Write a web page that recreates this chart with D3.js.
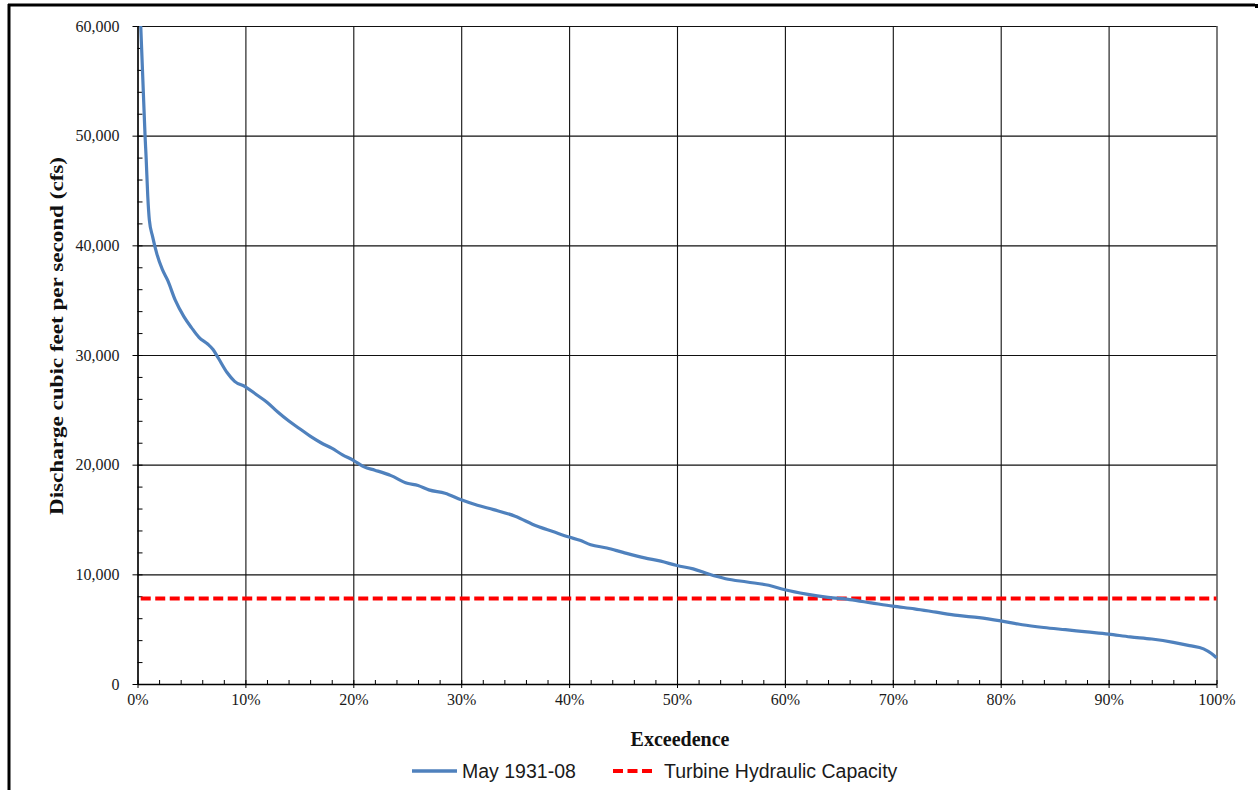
<!DOCTYPE html>
<html>
<head>
<meta charset="utf-8">
<script src="https://cdn.jsdelivr.net/npm/d3@7"></script>
<style>
  body { margin: 0; background: #fff; }
  svg { display: block; }
  .tick text { font-family: "Liberation Serif", "Times New Roman", serif; font-size: 16px; fill: #1a1a1a; }
</style>
</head>
<body>
<div id="chart"></div>
<script>
// exceedance (%) and discharge (cfs)
const exceedance = [0.3, 0.5, 0.7, 0.8, 0.95, 1.1, 1.4, 1.8, 2.3, 2.8, 3.5, 4.3, 5.0, 5.7, 6.5, 7.0, 7.5, 8.3, 9.0, 10.0,
  11, 12, 13, 14, 15, 16, 17, 18, 19, 20, 21, 22, 23.5, 25, 26, 27, 28.5, 30, 31.5, 33, 35, 37, 38.5, 40,
  41, 42, 43.5, 45, 47, 48.5, 50, 51.5, 53, 54.5, 56.5, 58.5, 60, 62, 64, 66, 68, 70, 72, 74, 76, 78, 80,
  82, 84, 86, 88, 90, 92, 94, 96, 97.5, 98.8, 99.5, 100];
const discharge = [60000, 55000, 50000, 48000, 44500, 42300, 40800, 39200, 37800, 36800, 35000, 33500, 32500, 31600, 31000, 30500, 29700, 28400, 27600, 27100,
  26400, 25700, 24800, 24000, 23300, 22600, 22000, 21500, 20900, 20400, 19800, 19500, 19000, 18300, 18100, 17700, 17400, 16800, 16300, 15900, 15300, 14400, 13900, 13400,
  13100, 12700, 12400, 12000, 11500, 11200, 10800, 10500, 10000, 9600, 9300, 9000, 8600, 8200, 7900, 7700, 7400, 7100, 6850, 6550, 6250, 6050, 5750,
  5400, 5150, 4950, 4750, 4550, 4300, 4100, 3800, 3500, 3200, 2800, 2400];
const turbineCapacity = 7800;
const xTicks = [0, 10, 20, 30, 40, 50, 60, 70, 80, 90, 100];
const yTicks = [0, 10000, 20000, 30000, 40000, 50000, 60000];
const seriesNames = ["May 1931-08", "Turbine Hydraulic Capacity"];

const W = 1260, H = 790;
const margin = {left: 137.5, right: W - 1216.5, top: 26, bottom: H - 684};
const width = W - margin.left - margin.right;
const height = H - margin.top - margin.bottom;

const svg = d3.select('#chart').append('svg')
  .attr('width', W)
  .attr('height', H);

// outer frame (left and top edges of the page box)
svg.append('line').attr('x1', 9).attr('x2', 9).attr('y1', 4).attr('y2', H)
  .attr('stroke', '#000').attr('stroke-width', 3);
svg.append('line').attr('x1', 8).attr('x2', 1255).attr('y1', 5).attr('y2', 5)
  .attr('stroke', '#000').attr('stroke-width', 3);
svg.append('rect').attr('x', 1255).attr('y', 4).attr('width', 3).attr('height', 4).attr('fill', '#000');

const g = svg.append('g')
  .attr('transform', 'translate(' + margin.left + ',' + margin.top + ')');

const x = d3.scaleLinear().domain([0, 100]).range([0, width]);
const y = d3.scaleLinear().domain([0, 60000]).range([height, 0]);

// gridlines
g.append('g')
  .attr('class', 'grid')
  .call(d3.axisLeft(y).tickValues(yTicks).tickSize(-width).tickFormat(''))
  .call(s => s.select('.domain').remove())
  .selectAll('line').attr('stroke', '#111').attr('stroke-width', 1.1);
g.append('g')
  .attr('class', 'grid')
  .attr('transform', 'translate(0,' + height + ')')
  .call(d3.axisBottom(x).tickValues(xTicks).tickSize(-height).tickFormat(''))
  .call(s => s.select('.domain').remove())
  .selectAll('line').attr('stroke', '#111').attr('stroke-width', 1.1);

// minor ticks (inside)
g.append('g')
  .call(d3.axisLeft(y).tickValues(d3.range(0, 60001, 2000)).tickSize(-5).tickFormat(''))
  .call(s => s.select('.domain').remove())
  .selectAll('line').attr('stroke', '#000');
g.append('g')
  .attr('transform', 'translate(0,' + height + ')')
  .call(d3.axisBottom(x).tickValues(d3.range(0, 101, 2)).tickSize(-4).tickFormat(''))
  .call(s => s.select('.domain').remove())
  .selectAll('line').attr('stroke', '#000');

// major axes
const yAxis = g.append('g')
  .call(d3.axisLeft(y).tickValues(yTicks).tickSizeInner(5).tickSizeOuter(0).tickPadding(13)
    .tickFormat(d3.format(',')));
yAxis.select('.domain').attr('stroke', '#000').attr('stroke-width', 1.3);
yAxis.selectAll('.tick line').attr('stroke', '#000');

const xAxis = g.append('g')
  .attr('transform', 'translate(0,' + height + ')')
  .call(d3.axisBottom(x).tickValues(xTicks).tickSizeInner(4).tickSizeOuter(0).tickPadding(6)
    .tickFormat(d => d + '%'));
xAxis.select('.domain').attr('stroke', '#000').attr('stroke-width', 1.3);
xAxis.selectAll('.tick line').attr('stroke', '#000');

// turbine capacity
g.append('line')
  .attr('x1', x(0.3)).attr('x2', x(100))
  .attr('y1', y(turbineCapacity)).attr('y2', y(turbineCapacity))
  .attr('stroke', '#ff0000')
  .attr('stroke-width', 4)
  .attr('stroke-dasharray', '10,4.5');

// flow duration curve
const data = exceedance.map((e, i) => ({e: e, q: discharge[i]}));
const line = d3.line()
  .x(d => x(d.e))
  .y(d => y(d.q))
  .curve(d3.curveMonotoneX);
g.append('path')
  .datum(data)
  .attr('d', line)
  .attr('fill', 'none')
  .attr('stroke', '#4f81bd')
  .attr('stroke-width', 3.2)
  .attr('stroke-linejoin', 'round');

// axis titles
svg.append('text')
  .attr('x', 680).attr('y', 746)
  .attr('text-anchor', 'middle')
  .style('font-family', '"Liberation Serif", "Times New Roman", serif')
  .style('font-weight', 'bold')
  .style('font-size', '20px')
  .attr('fill', '#111')
  .text('Exceedence');

svg.append('text')
  .attr('transform', 'translate(63,336) rotate(-90)')
  .attr('text-anchor', 'middle')
  .attr('textLength', 358)
  .attr('lengthAdjust', 'spacingAndGlyphs')
  .style('font-family', '"Liberation Serif", "Times New Roman", serif')
  .style('font-weight', 'bold')
  .style('font-size', '19px')
  .attr('fill', '#111')
  .text('Discharge cubic feet per second (cfs)');

// legend
const legend = svg.append('g');
const legendItems = [
  {name: seriesNames[0], x1: 412, x2: 457, tx: 462, color: '#4f81bd', dash: null, w: 3.5},
  {name: seriesNames[1], x1: 613, x2: 655, tx: 664, color: '#ff0000', dash: '10,4.5', w: 4}
];
legendItems.forEach(function (d) {
  legend.append('line')
    .attr('x1', d.x1).attr('x2', d.x2).attr('y1', 771).attr('y2', 771)
    .attr('stroke', d.color).attr('stroke-width', d.w)
    .attr('stroke-dasharray', d.dash);
  legend.append('text')
    .attr('x', d.tx).attr('y', 778)
    .style('font-family', '"Liberation Sans", Arial, sans-serif')
    .style('font-size', '19.5px')
    .attr('fill', '#1a1a1a')
    .text(d.name);
});
</script>
</body>
</html>
